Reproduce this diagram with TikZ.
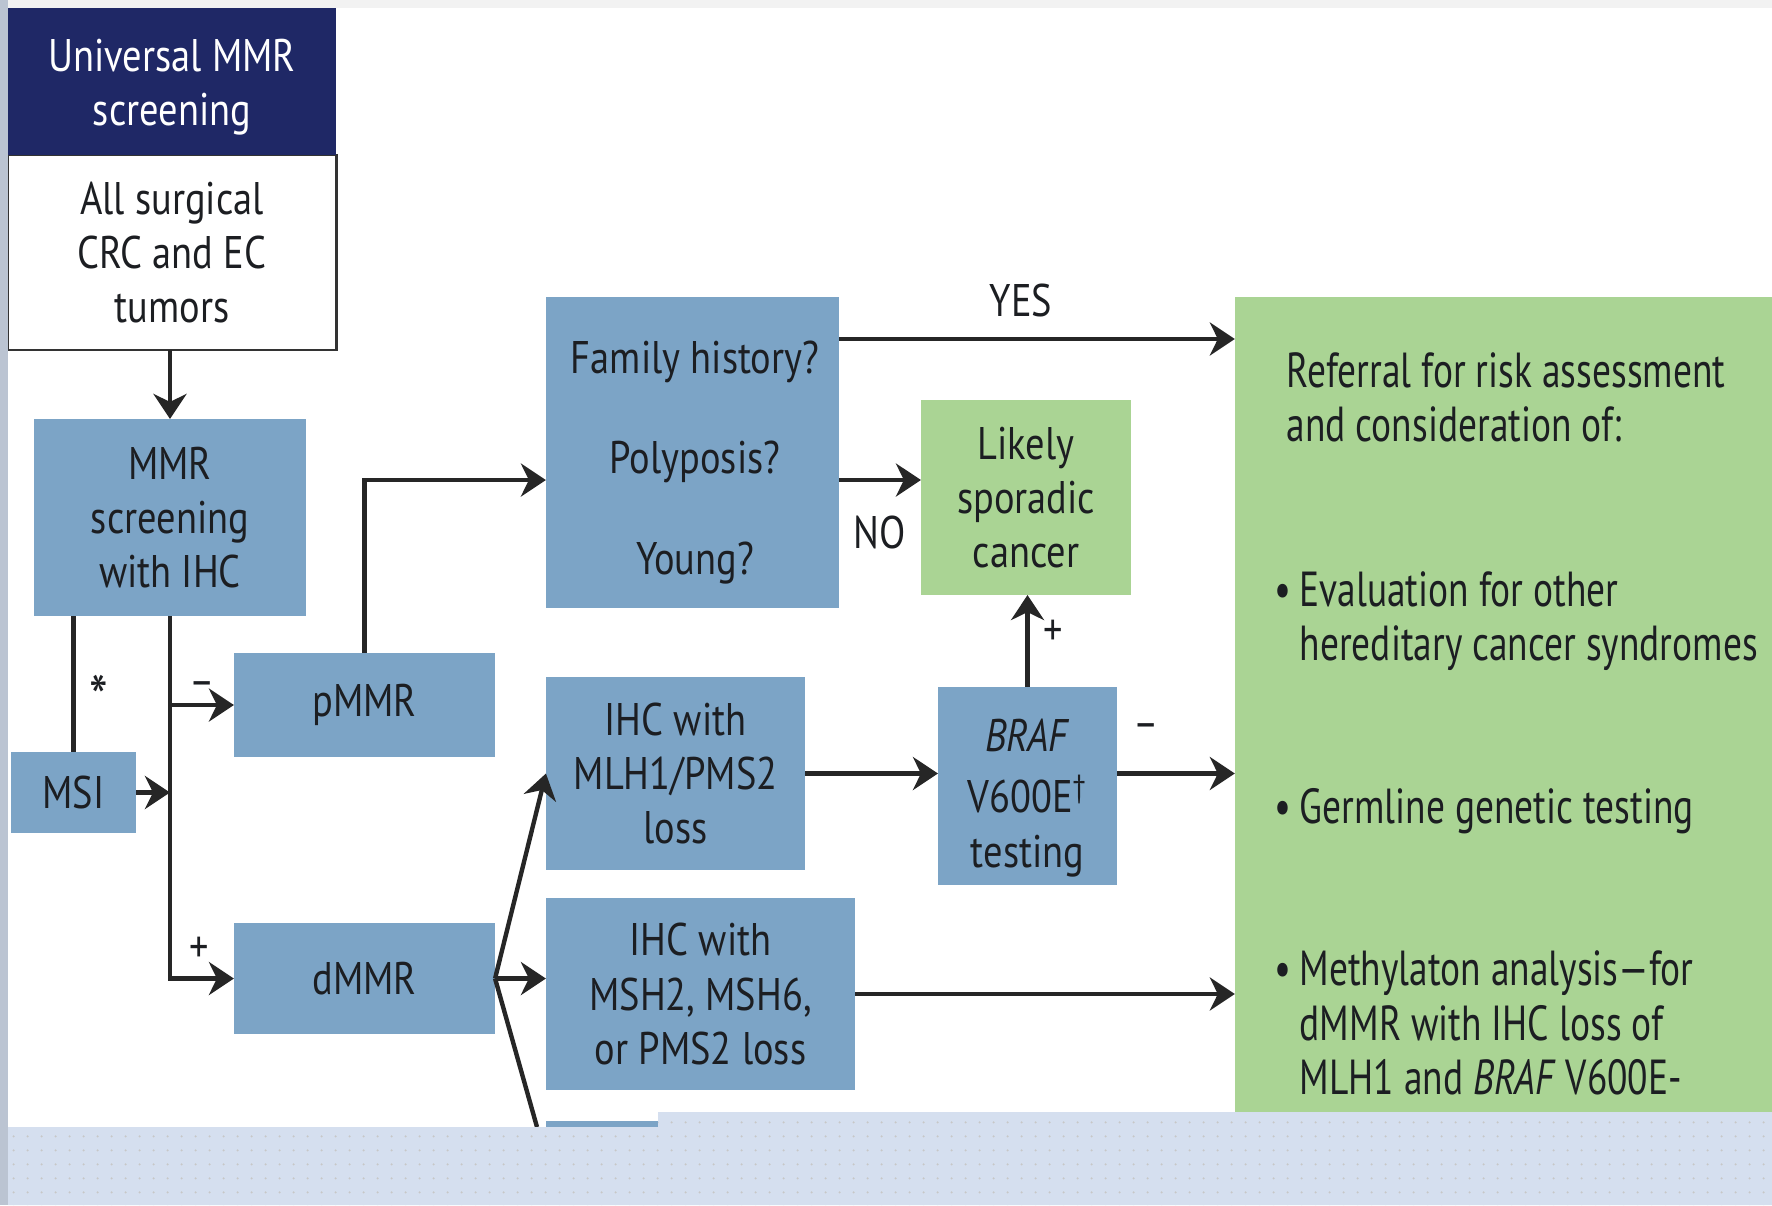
\documentclass[tikz,border=0pt]{standalone}
\usepackage{fontspec}
\setmainfont{PT Sans}[FakeStretch=0.84]
\newfontfamily\panelfont{PT Sans}[FakeStretch=0.76,Ligatures=TeX]
\usetikzlibrary{arrows.meta,patterns.meta}

\definecolor{navy}{RGB}{31,40,102}
\definecolor{boxblue}{RGB}{124,164,198}
\definecolor{boxgreen}{RGB}{170,212,148}
\definecolor{slide}{RGB}{213,223,239}
\definecolor{ink}{RGB}{28,30,34}

\begin{document}
\begin{tikzpicture}[x=0.01cm,y=-0.01cm,
  box/.style={fill=boxblue,inner sep=0pt,outer sep=0pt,align=center,text=ink,font=\fontsize{13}{15.4}\selectfont},
  greenbox/.style={box,fill=boxgreen},
  boxtext/.style={text=ink,inner sep=0pt,align=center,font=\fontsize{13}{15.4}\selectfont},
  arr/.style={-{Stealth[length=2.5mm,width=3.3mm,inset=0.8mm]},line width=1.25pt,black!85},
  link/.style={line width=1.25pt,black!85},
  tag/.style={text=ink,inner sep=1pt,font=\fontsize{13}{15.4}\selectfont},
  sign/.style={text=ink,inner sep=1pt,font=\fontsize{13}{15.4}\selectfont},
  note/.style={text=ink,anchor=west,align=left,inner sep=0pt,font=\panelfont\fontsize{14}{15.4}\selectfont}]
  \useasboundingbox (0,0) rectangle (1772,1205);
  \fill[white] (0,0) rectangle (1772,1205);

  % left column
  \node[box,fill=white,draw=black!80,line width=0.8pt,minimum width=3.28cm,minimum height=1.95cm] (tumors) at (172,252.5) {All surgical\\CRC and EC\\tumors};
  \node[box,fill=navy,text=white,minimum width=3.28cm,minimum height=1.47cm] (universal) at (172,81.5) {};
  \node[boxtext,text=white] (universaltext) at (172,87) {Universal MMR\\screening};
  \node[box,minimum width=2.72cm,minimum height=1.97cm] (screen) at (170,517.5) {MMR\\screening\\with IHC};
  \node[box,minimum width=1.25cm,minimum height=0.81cm] (msi) at (73.5,792.5) {MSI};
  \node[box,minimum width=2.61cm,minimum height=1.04cm] (pmmr) at (364.5,705) {pMMR};
  \node[box,minimum width=2.61cm,minimum height=1.11cm] (dmmr) at (364.5,978.5) {dMMR};

  % middle
  \node[box,minimum width=2.93cm,minimum height=3.11cm] (family) at (692.5,452.5) {};
  \node[boxtext,font=\fontsize{13}{28.7}\selectfont] (questions) at (695,462.5) {Family history?\\Polyposis?\\Young?};
  \node[greenbox,minimum width=2.10cm,minimum height=1.95cm] (likely) at (1026,497.5) {Likely\\sporadic\\cancer};
  \node[box,minimum width=2.59cm,minimum height=1.93cm] (mlh) at (675.5,773.5) {IHC with\\MLH1/PMS2\\loss};
  \node[box,minimum width=1.79cm,minimum height=1.98cm] (braf) at (1027.5,786) {};
  \node[boxtext] (braftext) at (1027.5,798) {\textit{BRAF}\\[2pt]V600E\textsuperscript{\textdagger}\\testing};
  \node[box,minimum width=3.09cm,minimum height=1.92cm] (msh) at (700.5,994) {IHC with\\MSH2, MSH6,\\or PMS2 loss};
  \node[box,minimum width=1.12cm,minimum height=0.2cm] (hidden) at (602,1131) {};

  % referral panel
  \node[greenbox,minimum width=5.37cm,minimum height=8.15cm] (refer) at (1503.5,704.5) {};
  \node[note] (risk) at (1286,397) {Referral for risk assessment\\and consideration of:};
  \node[note] (evaluation) at (1299,621.5) {\llap{\textbullet\hspace{0.08cm}}Evaluation for other\\hereditary cancer syndromes};
  \node[note] (germline) at (1299,811) {\llap{\textbullet\hspace{0.08cm}}Germline genetic testing};
  \node[note] (methyl) at (1299,1023) {\llap{\textbullet\hspace{0.08cm}}Methylaton analysis\textemdash for\\dMMR with IHC loss of\\MLH1 and \textit{BRAF} V600E-};

  \coordinate (yeslevel) at (0,339);
  \coordinate (nolevel) at (0,480);
  \coordinate (cut) at (537,1127);

  \draw[arr] (tumors.south -| screen.north) -- (screen.north);
  \draw[link] (screen.south -| msi.north) -- (msi.north) node[sign,font=\fontsize{18}{20}\selectfont,midway,right=0.1cm,yshift=-0.14cm] {*};
  \draw[arr] (screen.south) |- (dmmr.west) node[sign,pos=0.73,above=0.1cm] {+};
  \draw[arr] (screen.south |- pmmr.west) -- (pmmr.west) node[sign,midway,above=0.03cm] {\textendash};
  \draw[arr] (msi.east) -- (msi.east -| screen.south);
  \draw[arr] (pmmr.north) |- (family.west |- nolevel);
  \draw[arr] (family.east |- yeslevel) -- (refer.west |- yeslevel) node[tag,pos=0.46,above=0.16cm] {YES};
  \draw[arr] (family.east |- nolevel) -- (likely.west |- nolevel) node[tag,midway,below=0.3cm] {NO};
  \draw[arr] (braf.north) -- (braf.north |- likely.south) node[sign,pos=0.59,right=0.1cm] {+};
  \draw[arr] (mlh.east) -- (mlh.east -| braf.west);
  \draw[arr] (braf.east |- mlh.east) -- (refer.west |- mlh.east) node[sign,pos=0.25,above=0.29cm] {\textendash};
  \draw[arr] (msh.east) -- (msh.east -| refer.west);
  \draw[arr] (dmmr.east) -- (msh.west |- dmmr.east);
  \draw[arr] (dmmr.east) -- (mlh.west);
  \draw[link] (dmmr.east) -- (cut);

  % slide background showing round the figure
  \fill[slide] (8,1127) -- (658,1127) -- (658,1112) -- (1772,1112) -- (1772,1205) -- (8,1205) -- cycle;
  \fill[pattern={Dots[distance=4pt,radius=0.35pt]},pattern color=black!22] (8,1127) -- (658,1127) -- (658,1112) -- (1772,1112) -- (1772,1205) -- (8,1205) -- cycle;
  \fill[black!5] (0,0) rectangle (1772,8);
  \fill[black!12!slide] (0,0) rectangle (8,1205);
\end{tikzpicture}
\end{document}
